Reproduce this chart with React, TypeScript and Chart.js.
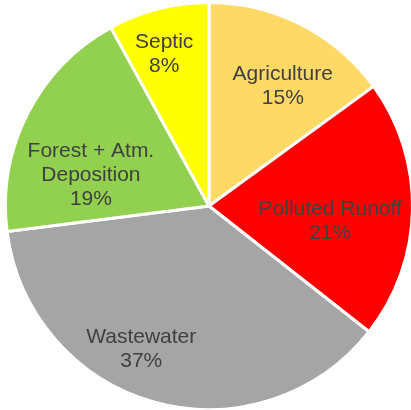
import React, { useEffect, useRef } from "react";
import { Chart, registerables } from "chart.js";

Chart.register(...registerables);

const categories = ["Agriculture", "Polluted Runoff", "Wastewater", "Forest + Atm.\nDeposition", "Septic"];
const shares = [15, 20.6, 37.4, 19, 8];
const colors = ["#FFD966", "#FF0000", "#A5A5A5", "#92D050", "#FFFF00"];
// label placement: fraction of radius and angular offset (degrees) from slice middle
const labelRadius = [0.69, 0.6, 0.78, 0.6, 0.78];
const labelAngleOffset = [4.7, 6, 9.8, -12.3, -2];

const labelPlugin = {
  id: "sliceLabels",
  afterDatasetsDraw(chart: any) {
    const ctx = chart.ctx;
    const meta = chart.getDatasetMeta(0);
    ctx.save();
    ctx.font = "21px 'Liberation Sans', Arial, sans-serif";
    ctx.fillStyle = "#404040";
    ctx.textAlign = "center";
    ctx.textBaseline = "middle";
    const lh = 24;
    meta.data.forEach((arc: any, i: number) => {
      const { x, y, startAngle, endAngle, outerRadius } = arc.getProps(
        ["x", "y", "startAngle", "endAngle", "outerRadius"],
        true
      );
      const mid = (startAngle + endAngle) / 2 + (labelAngleOffset[i] * Math.PI) / 180;
      const r = outerRadius * labelRadius[i];
      const cx = x + Math.cos(mid) * r;
      const cy = y + Math.sin(mid) * r;
      const lines = [...categories[i].split("\n"), `${Math.round(shares[i])}%`];
      const top = cy - ((lines.length - 1) * lh) / 2;
      lines.forEach((ln, k) => ctx.fillText(ln, cx, top + k * lh));
    });
    ctx.restore();
  },
};

export default function App() {
  const ref = useRef<HTMLCanvasElement | null>(null);
  useEffect(() => {
    if (!ref.current) return;
    const chart = new Chart(ref.current, {
      type: "pie",
      data: {
        labels: categories,
        datasets: [
          {
            data: shares,
            backgroundColor: colors,
            borderColor: "#FFFFFF",
            borderWidth: 3,
          },
        ],
      },
      options: {
        responsive: false,
        animation: false,
        layout: { padding: { left: 4, top: 1, right: 6, bottom: 9 } },
        plugins: {
          legend: { display: false },
          tooltip: { enabled: false },
        },
      },
      plugins: [labelPlugin],
    });
    return () => chart.destroy();
  }, []);
  return (
    <div
      style={{
        position: "fixed",
        left: 0,
        top: 0,
        width: 411,
        height: 410,
        overflow: "hidden",
        background: "#FFFFFF",
      }}
    >
      <canvas ref={ref} width={420} height={420} style={{ display: "block" }} />
    </div>
  );
}
